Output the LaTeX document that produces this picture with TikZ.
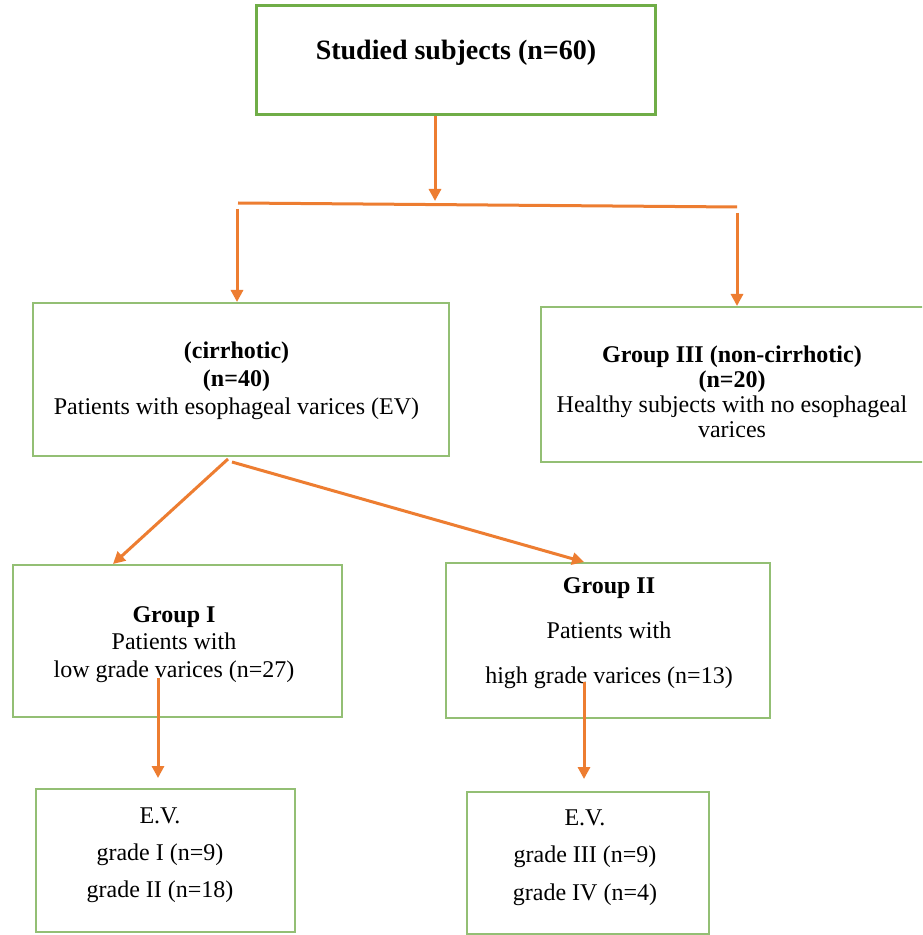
\documentclass[tikz,border=0pt]{standalone}
\usepackage{fontspec}
\setmainfont{Liberation Serif}
\usetikzlibrary{arrows.meta}
\definecolor{arrorange}{HTML}{ED7D31}
\definecolor{boxgreen}{HTML}{70AD47}
\definecolor{boxlight}{HTML}{93BF74}
\begin{document}
\begin{tikzpicture}[x=0.5pt,y=-0.5pt,
  topbox/.style={draw=boxgreen,line width=1.5pt,rectangle,inner sep=0pt},
  flowbox/.style={draw=boxlight,line width=1pt,rectangle,inner sep=0pt},
  txt/.style={inner sep=0pt,align=center},
  arr/.style={draw=arrorange,line width=1.5pt,-{Triangle[length=6pt,width=6pt]}},
  barline/.style={draw=arrorange,line width=1.5pt}
]
\useasboundingbox[fill=white] (0,0) rectangle (922,935);
\begin{scope}
\clip (0,0) rectangle (922,935);

% boxes
\node[topbox,minimum width=199.5pt,minimum height=54.5pt] (top) at (455.5,60.5) {};
\node[flowbox,minimum width=208pt,minimum height=76.5pt] (cir) at (241,379.5) {};
\node[flowbox,minimum width=193pt,minimum height=77.5pt] (non) at (734,384.5) {};
\node[flowbox,minimum width=164.5pt,minimum height=76pt] (g1) at (177.5,641) {};
\node[flowbox,minimum width=162pt,minimum height=77.5pt] (g2) at (608,640.5) {};
\node[flowbox,minimum width=129.5pt,minimum height=71.5pt] (ev1) at (165.5,860.5) {};
\node[flowbox,minimum width=121pt,minimum height=71pt] (ev2) at (588,863) {};

% texts
\node[txt,font=\fontsize{14}{16}\selectfont\bfseries] (toptxt) at (456,53) {Studied subjects (n=60)};
\node[txt,font=\fontsize{12}{14}\selectfont] (cirtxt) at (236.5,380.5)
  {\textbf{(cirrhotic)}\\\textbf{(n=40)}\\Patients with esophageal varices (EV)};
\node[txt,font=\fontsize{12}{12.5}\selectfont] (nontxt) at (732,392)
  {\textbf{Group III (non-cirrhotic)}\\\textbf{(n=20)}\\Healthy subjects with no esophageal\\varices};
\node[txt,font=\fontsize{12}{13.75}\selectfont] (g1txt) at (174,644.5)
  {\textbf{Group I}\\Patients with\\low grade varices (n=27)};
\node[txt,font=\fontsize{12}{22.5}\selectfont] (g2txt) at (609,633)
  {\textbf{Group II}\\Patients with\\high grade varices (n=13)};
\node[txt,font=\fontsize{12}{18.5}\selectfont] (ev1txt) at (160,855)
  {E.V.\\grade I (n=9)\\grade II (n=18)};
\node[txt,font=\fontsize{12}{18.75}\selectfont] (ev2txt) at (585,857.5)
  {E.V.\\grade III (n=9)\\grade IV (n=4)};

% connector points
\coordinate (barl) at (238,203);
\coordinate (barr) at (737,207);
\coordinate (barm) at (435,201);
\coordinate (bl) at (237,209);
\coordinate (br) at (737,213);
\coordinate (d0) at (228,459);
\coordinate (d1) at (232,462);
\coordinate (t1) at (113,0);
\coordinate (t2) at (584,0);
\coordinate (v1) at (158,678);
\coordinate (e1) at (158,778);
\coordinate (v2) at (584,682);
\coordinate (e2) at (584,779);

% connectors
\draw[arr] (top.south -| barm) -- (barm);
\draw[barline] (barl) -- (barr);
\draw[arr] (bl) -- (bl |- cir.north);
\draw[arr] (br) -- (br |- non.north);
\draw[arr] (d0) -- (g1.north -| t1);
\draw[arr] (d1) -- (g2.north -| t2);
\draw[arr] (v1) -- (e1);
\draw[arr] (v2) -- (e2);
\end{scope}
\end{tikzpicture}
\end{document}
